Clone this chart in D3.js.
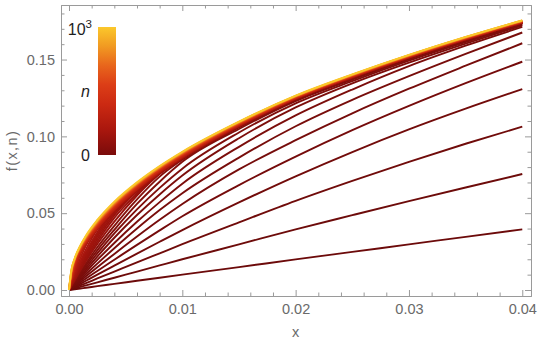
<!DOCTYPE html>
<html>
<head>
<meta charset="utf-8">
<script src="https://cdnjs.cloudflare.com/ajax/libs/d3/7.8.5/d3.min.js"></script>
<style>
    body { margin: 0; background: #fff; }
    svg { display: block; font-family: "Liberation Sans", Arial, sans-serif; }
</style>
</head>
<body>
<svg id="chart" width="540" height="341"></svg>
<script>
const xGrid = [0, 0.0002, 0.0005, 0.001, 0.0015, 0.0025, 0.004, 0.006, 0.008, 0.01, 0.015, 0.02, 0.025, 0.03, 0.035, 0.04]

// one curve per n
const nValues = [0, 10, 20, 30, 40, 50, 60, 70, 80, 90, 100, 110,
    120, 130, 140, 150, 160, 170, 190, 220, 260, 300, 350, 400, 450, 500, 600, 700, 800, 900, 1000]

// f(x,n) at each xGrid point, one row per nValues entry
const fValues = [
    [0, 0.0002, 0.0005, 0.0010, 0.0015, 0.0025, 0.0040, 0.0060, 0.0080, 0.0100, 0.0149, 0.0199, 0.0248, 0.0297, 0.0346, 0.0395],
    [0, 0.0004, 0.0010, 0.0020, 0.0030, 0.0050, 0.0080, 0.0120, 0.0160, 0.0200, 0.0297, 0.0395, 0.0487, 0.0578, 0.0667, 0.0755],
    [0, 0.0006, 0.0015, 0.0030, 0.0045, 0.0075, 0.0120, 0.0180, 0.0239, 0.0298, 0.0440, 0.0580, 0.0710, 0.0834, 0.0952, 0.1063],
    [0, 0.0008, 0.0020, 0.0040, 0.0060, 0.0100, 0.0159, 0.0237, 0.0314, 0.0390, 0.0570, 0.0740, 0.0898, 0.1045, 0.1180, 0.1307],
    [0, 0.0010, 0.0025, 0.0050, 0.0075, 0.0124, 0.0197, 0.0294, 0.0388, 0.0480, 0.0683, 0.0868, 0.1040, 0.1198, 0.1346, 0.1486],
    [0, 0.0012, 0.0030, 0.0060, 0.0090, 0.0148, 0.0235, 0.0348, 0.0457, 0.0560, 0.0785, 0.0975, 0.1150, 0.1310, 0.1460, 0.1606],
    [0, 0.0014, 0.0035, 0.0070, 0.0104, 0.0172, 0.0272, 0.0400, 0.0520, 0.0630, 0.0862, 0.1066, 0.1238, 0.1392, 0.1537, 0.1676],
    [0, 0.0016, 0.0040, 0.0080, 0.0119, 0.0196, 0.0306, 0.0444, 0.0572, 0.0692, 0.0932, 0.1136, 0.1305, 0.1457, 0.1590, 0.1712],
    [0, 0.0018, 0.0045, 0.0089, 0.0133, 0.0218, 0.0340, 0.0488, 0.0622, 0.0745, 0.0988, 0.1188, 0.1345, 0.1480, 0.1604, 0.1722],
    [0, 0.0020, 0.0050, 0.0099, 0.0146, 0.0238, 0.0368, 0.0525, 0.0665, 0.0790, 0.1025, 0.1215, 0.1360, 0.1493, 0.1614, 0.1728],
    [0, 0.0022, 0.0055, 0.0108, 0.0160, 0.0258, 0.0392, 0.0560, 0.0705, 0.0834, 0.1048, 0.1230, 0.1370, 0.1502, 0.1621, 0.1733],
    [0, 0.0024, 0.0059, 0.0117, 0.0173, 0.0278, 0.0418, 0.0590, 0.0738, 0.0848, 0.1058, 0.1238, 0.1378, 0.1508, 0.1626, 0.1737],
    [0, 0.0026, 0.0064, 0.0129, 0.0189, 0.0299, 0.0445, 0.0615, 0.0755, 0.0856, 0.1065, 0.1243, 0.1383, 0.1512, 0.1630, 0.1740],
    [0, 0.0028, 0.0070, 0.0136, 0.0199, 0.0316, 0.0470, 0.0628, 0.0761, 0.0858, 0.1067, 0.1244, 0.1384, 0.1513, 0.1631, 0.1740],
    [0, 0.0030, 0.0075, 0.0144, 0.0210, 0.0332, 0.0487, 0.0643, 0.0761, 0.0858, 0.1067, 0.1244, 0.1384, 0.1513, 0.1631, 0.1740],
    [0, 0.0032, 0.0079, 0.0153, 0.0223, 0.0348, 0.0501, 0.0648, 0.0762, 0.0859, 0.1067, 0.1244, 0.1385, 0.1514, 0.1632, 0.1741],
    [0, 0.0034, 0.0084, 0.0161, 0.0234, 0.0362, 0.0513, 0.0649, 0.0763, 0.0860, 0.1068, 0.1245, 0.1385, 0.1514, 0.1632, 0.1741],
    [0, 0.0036, 0.0089, 0.0169, 0.0245, 0.0376, 0.0516, 0.0650, 0.0764, 0.0861, 0.1069, 0.1246, 0.1385, 0.1514, 0.1632, 0.1741],
    [0, 0.0040, 0.0097, 0.0185, 0.0264, 0.0395, 0.0518, 0.0652, 0.0765, 0.0862, 0.1069, 0.1246, 0.1386, 0.1515, 0.1633, 0.1742],
    [0, 0.0046, 0.0110, 0.0206, 0.0290, 0.0398, 0.0521, 0.0654, 0.0767, 0.0864, 0.1071, 0.1247, 0.1387, 0.1516, 0.1633, 0.1742],
    [0, 0.0053, 0.0126, 0.0230, 0.0304, 0.0402, 0.0524, 0.0657, 0.0770, 0.0866, 0.1072, 0.1248, 0.1388, 0.1516, 0.1634, 0.1743],
    [0, 0.0060, 0.0141, 0.0248, 0.0307, 0.0405, 0.0527, 0.0659, 0.0772, 0.0868, 0.1074, 0.1249, 0.1389, 0.1517, 0.1635, 0.1744],
    [0, 0.0069, 0.0156, 0.0254, 0.0313, 0.0411, 0.0533, 0.0665, 0.0776, 0.0872, 0.1076, 0.1251, 0.1390, 0.1519, 0.1636, 0.1745],
    [0, 0.0077, 0.0170, 0.0259, 0.0319, 0.0418, 0.0539, 0.0670, 0.0781, 0.0876, 0.1079, 0.1253, 0.1392, 0.1520, 0.1638, 0.1747],
    [0, 0.0085, 0.0179, 0.0264, 0.0325, 0.0424, 0.0545, 0.0675, 0.0785, 0.0880, 0.1082, 0.1255, 0.1394, 0.1522, 0.1640, 0.1748],
    [0, 0.0092, 0.0186, 0.0267, 0.0328, 0.0427, 0.0548, 0.0678, 0.0787, 0.0882, 0.1083, 0.1256, 0.1395, 0.1523, 0.1640, 0.1749],
    [0, 0.0104, 0.0192, 0.0272, 0.0334, 0.0434, 0.0554, 0.0683, 0.0792, 0.0886, 0.1086, 0.1258, 0.1397, 0.1524, 0.1642, 0.1750],
    [0, 0.0112, 0.0196, 0.0277, 0.0340, 0.0440, 0.0560, 0.0688, 0.0796, 0.0890, 0.1089, 0.1260, 0.1399, 0.1526, 0.1643, 0.1752],
    [0, 0.0118, 0.0200, 0.0282, 0.0346, 0.0446, 0.0566, 0.0693, 0.0800, 0.0894, 0.1092, 0.1262, 0.1400, 0.1528, 0.1645, 0.1753],
    [0, 0.0123, 0.0202, 0.0286, 0.0350, 0.0451, 0.0570, 0.0697, 0.0804, 0.0897, 0.1094, 0.1263, 0.1402, 0.1529, 0.1646, 0.1754],
    [0, 0.0126, 0.0205, 0.0290, 0.0355, 0.0456, 0.0575, 0.0701, 0.0807, 0.0900, 0.1096, 0.1265, 0.1403, 0.1530, 0.1647, 0.1755]
]

// axis ticks
const xMajor = [0, 0.01, 0.02, 0.03, 0.04]
const xMinor = [0.002, 0.004, 0.006, 0.008, 0.012, 0.014, 0.016, 0.018, 0.022, 0.024, 0.026, 0.028, 0.032, 0.034, 0.036, 0.038]
const yMajor = [0, 0.05, 0.10, 0.15]
const yMinor = [0.01, 0.02, 0.03, 0.04, 0.06, 0.07, 0.08, 0.09, 0.11, 0.12, 0.13, 0.14, 0.16, 0.17, 0.18]

// colour bar: n range and colour stops
const nRange = [0, 1000]
const colorStops = [0, 0.2, 0.4, 0.55, 0.7, 0.85, 1]
const colorList = ["#7a0b0b", "#aa170e", "#cc2a12", "#dc3e17", "#e8661c", "#f19a22", "#fbc82b"]

const svg = d3.select("#chart")
const frame = { left: 61, right: 531, top: 5, bottom: 296 }
const axisColor = "#9a9a9a"
const labelColor = "#6a6a6a"

const x = d3.scaleLinear().domain([-0.000706, 0.04077]).range([frame.left, frame.right])
const y = d3.scaleLinear().domain([-0.0039, 0.1855]).range([frame.bottom, frame.top])

const tNorm = d3.scaleLinear().domain(nRange).range([0, 1])
const color = d3.scaleLinear().domain(colorStops).range(colorList).interpolate(d3.interpolateRgb)

// curves, drawn from small n to large n so the yellow one ends up on top
svg.append("clipPath").attr("id", "plotclip")
    .append("rect")
    .attr("x", frame.left).attr("y", frame.top)
    .attr("width", frame.right - frame.left).attr("height", frame.bottom - frame.top)

const line = d3.line()
    .x((d, i) => x(xGrid[i]))
    .y(d => y(d))
    .curve(d3.curveMonotoneX)

const series = nValues.map((n, i) => ({ n: n, values: fValues[i] }))

svg.append("g").attr("clip-path", "url(#plotclip)")
    .selectAll("path").data(series).join("path")
    .attr("d", d => line(d.values))
    .attr("fill", "none")
    .attr("stroke", d => {
        const t = tNorm(d.n)
        // the separate low-n lines read a little darker than the bar
        return t < 0.115 ? d3.color(color(t)).darker(0.35).formatHex() : color(t)
    })
    .attr("stroke-width", 1.9)
    .attr("stroke-linejoin", "round")

// frame axes, ticks point inward
function styleAxis(g) {
    g.selectAll("path.domain").attr("stroke", axisColor)
    g.selectAll(".tick line").attr("stroke", axisColor)
    g.selectAll(".tick text").attr("fill", labelColor).style("font-size", "14.5px")
        .style("font-family", "'Liberation Sans', Arial, sans-serif")
}

function frameAxis(axisFn, scale, major, minor, withLabels, pad, transform) {
    const fmt = withLabels ? d3.format(".2f") : () => ""
    svg.append("g").attr("transform", transform)
        .call(axisFn(scale).tickValues(major).tickSize(-6).tickSizeOuter(0).tickPadding(pad).tickFormat(fmt))
        .call(styleAxis)
    svg.append("g").attr("transform", transform)
        .call(axisFn(scale).tickValues(minor).tickSize(-3.5).tickSizeOuter(0).tickFormat(""))
        .call(styleAxis)
}

frameAxis(d3.axisBottom, x, xMajor, xMinor, true, 8, `translate(0,${frame.bottom})`)
frameAxis(d3.axisTop, x, xMajor, xMinor, false, 8, `translate(0,${frame.top})`)
frameAxis(d3.axisLeft, y, yMajor, yMinor, true, 6, `translate(${frame.left},0)`)
frameAxis(d3.axisRight, y, yMajor, yMinor, false, 6, `translate(${frame.right},0)`)

// axis titles
svg.append("text")
    .attr("x", x(0.02)).attr("y", 337)
    .attr("text-anchor", "middle")
    .attr("fill", labelColor)
    .style("font-size", "14.5px")
    .text("x")

svg.append("text")
    .attr("transform", `translate(17,${(frame.top + frame.bottom) / 2}) rotate(-90)`)
    .attr("text-anchor", "middle")
    .attr("fill", labelColor)
    .style("font-size", "14.5px")
    .style("letter-spacing", "1.4px")
    .text("f(x,n)")

// colour bar legend
const bar = { x: 98, y: 27, w: 18, h: 128 }
const grad = svg.append("defs").append("linearGradient")
    .attr("id", "ngrad")
    .attr("x1", 0).attr("y1", 1).attr("x2", 0).attr("y2", 0)
grad.selectAll("stop").data(colorStops).join("stop")
    .attr("offset", d => d)
    .attr("stop-color", d => color(d))

svg.append("rect")
    .attr("x", bar.x).attr("y", bar.y)
    .attr("width", bar.w).attr("height", bar.h)
    .attr("fill", "url(#ngrad)")

const legendText = svg.append("g").attr("fill", "#1e1e1e").style("font-size", "16px")

const topLabel = legendText.append("text").attr("x", 92).attr("y", 35).attr("text-anchor", "end")
topLabel.append("tspan").text("10")
topLabel.append("tspan").attr("dy", -7).style("font-size", "11.5px").text("3")

legendText.append("text")
    .attr("x", 90).attr("y", 97)
    .attr("text-anchor", "end")
    .style("font-style", "italic")
    .text("n")

legendText.append("text")
    .attr("x", 90).attr("y", 161)
    .attr("text-anchor", "end")
    .text("0")
</script>
</body>
</html>
